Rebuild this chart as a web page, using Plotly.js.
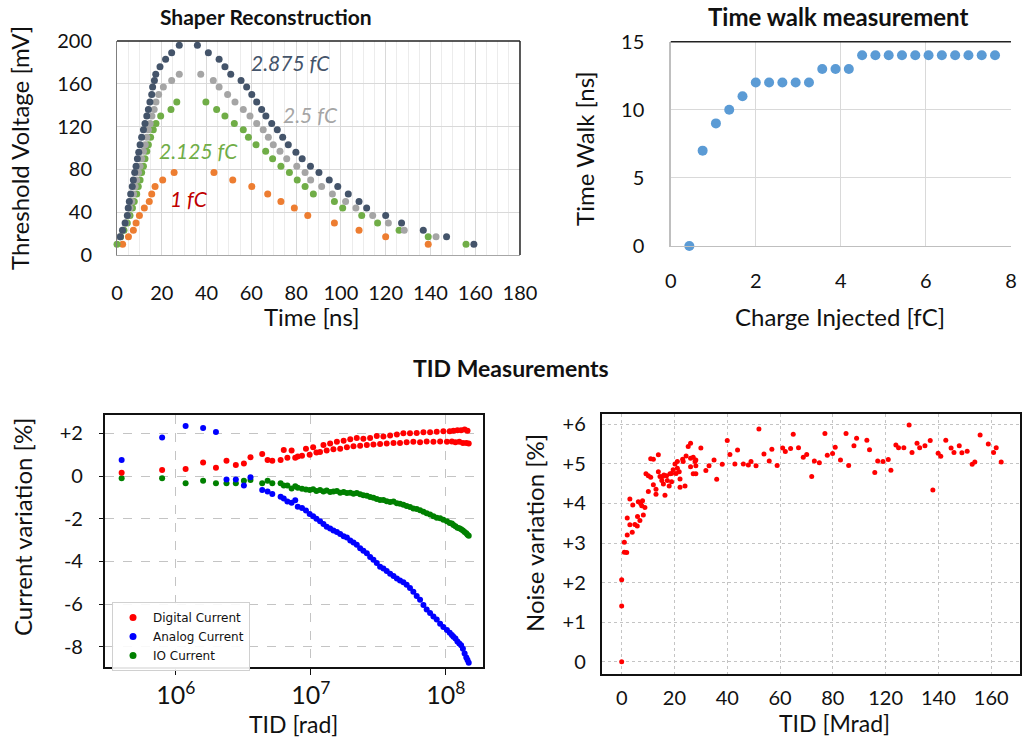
<!DOCTYPE html>
<html><head><meta charset="utf-8">
<script src="https://cdn.plot.ly/plotly-3.0.1.min.js"></script>
<style>body{margin:0;padding:0;background:#fff}#chart{width:1022px;height:738px}</style>
</head><body><div id="chart"></div>
<script>
// ---- Shaper Reconstruction (time [ns], threshold [mV]) ----
const q2875T = [1.5,2.5,3.6,4.6,5.0,5.5,6.1,6.8,7.3,7.9,8.5,9.1,9.7,10.3,11.0,11.8,12.5,13.3,14.0,14.7,15.5,15.9,16.7,17.3,19.2,21.7,24.4,27.8,
  35.9,40.8,45.6,48.2,50.8,55.4,57.9,60.2,62.4,64.6,66.5,69.1,71.6,74.0,76.5,79.9,82.7,86.4,90.2,94.8,98.6,103.3,108.1,111.5,120.0,127.1,136.8,147.2,159.4];
const q2875V = [17,23,30,37,44,50,57,64,70,77,83,90,96,103,110,117,123,130,136,143,150,157,163,169,176,183,189,196,
  196,189,183,176,169,163,157,150,143,136,130,123,117,110,103,96,90,83,77,70,64,57,50,44,37,30,23,17,10];
const q25T = [1.2,2.4,3.8,4.9,5.8,6.6,7.4,8.1,8.8,9.6,10.3,11.0,11.8,12.6,13.3,14.0,14.8,15.6,16.6,17.4,18.6,20.7,24.4,27.8,
  37.4,43.0,45.6,49.4,52.7,56.4,59.4,62.4,65.3,67.6,69.8,72.8,75.8,80.3,84.0,86.5,91.4,96.2,102.1,106.7,114.2,121.2,128.3,142.5];
const q25V = [17,23,30,37,44,50,57,64,70,77,83,90,97,103,110,117,123,130,136,143,150,157,163,169,
  169,163,157,150,143,136,130,123,117,110,103,97,90,83,77,70,64,57,50,44,37,30,23,17];
const q2125T = [0,1.6,3.1,4.6,5.8,6.9,7.7,8.8,9.5,10.3,11.0,11.8,12.5,13.3,14.0,15.0,16.2,17.4,19.5,24.1,26.7,
  39.7,44.5,48.2,52.4,56.4,58.7,62.1,66.4,69.5,73.2,77.0,80.5,84.0,87.7,97.1,100.8,109.3,116.4,126.0,139.0,155.9];
const q2125V = [10,17,23,30,37,44,50,57,64,70,77,83,90,97,103,110,117,123,130,136,143,
  143,136,130,123,117,110,103,97,90,83,77,70,64,57,50,44,37,30,23,17,10];
const q1T = [2.5,5.1,7.3,8.5,10.0,12.2,14.4,15.5,17.0,20.4,25.5,
  43.3,51.7,60.2,67.3,73.2,79.2,85.2,97.1,108.1,120.0,139.0];
const q1V = [10,17,23,30,37,44,50,57,64,70,77,
  77,70,64,57,50,44,37,30,23,17,10];

// ---- Time walk ----
const chargeFC = [0.4375,0.75,1.0625,1.375,1.6875,2.0,2.3125,2.625,2.9375,3.25,3.5625,3.875,4.1875,4.5,4.8125,5.125,5.4375,5.75,6.0625,6.375,6.6875,7.0,7.3125,7.625];
const timeWalk = [0,7,9,10,11,12,12,12,12,12,13,13,13,14,14,14,14,14,14,14,14,14,14,14];

// ---- TID current variation ----
const tidRad = [3.96e5,7.9e5,1.18e6,1.59e6,1.98e6,2.37e6,2.78e6,3.19e6,3.57e6,4.36e6,4.78e6,5.18e6,5.97e6,6.3e6,6.7e6,7.2e6,7.66e6,8.0e6,
  8.6e6,9.2e6,9.8e6,1.04e7,1.1e7,1.17e7,1.24e7,1.31e7,1.39e7,1.47e7,1.56e7,1.65e7,1.75e7,1.85e7,1.96e7,2.07e7,2.19e7,2.32e7,2.45e7,2.6e7,
  2.75e7,2.91e7,3.08e7,3.26e7,3.45e7,3.65e7,3.87e7,4.1e7,4.34e7,4.58e7,4.85e7,5.13e7,5.43e7,5.75e7,6.09e7,6.45e7,6.83e7,7.22e7,7.65e7,8.1e7,
  8.57e7,9.08e7,9.6e7,1.02e8,1.07e8,1.11e8,1.14e8,1.18e8,1.22e8,1.26e8,1.3e8,1.34e8,1.38e8,1.42e8,1.45e8,1.48e8];
const digitalCur = [0.15,0.28,0.33,0.63,0.39,0.72,0.52,0.59,0.88,1.03,0.75,0.72,0.75,1.22,0.86,1.19,0.86,0.91,
  0.95,1.28,1.0,1.35,1.1,1.12,1.45,1.2,1.52,1.25,1.6,1.28,1.65,1.35,1.72,1.4,1.78,1.42,1.75,1.45,
  1.78,1.48,1.88,1.5,1.85,1.52,1.9,1.55,1.95,1.55,2.0,1.58,2.0,1.6,2.02,1.58,2.05,1.62,2.05,1.6,
  2.08,1.62,2.1,1.6,2.1,1.62,2.12,1.58,2.15,1.6,2.15,1.55,2.18,1.55,2.12,1.52];
const analogCur = [0.75,1.81,2.34,2.25,2.06,-0.16,-0.16,-0.45,-0.06,-0.66,-0.73,-0.84,-0.97,-1.05,-1.2,-1.25,-1.13,-1.44,
  -1.5,-1.62,-1.78,-1.88,-2.0,-2.12,-2.25,-2.38,-2.46,-2.55,-2.62,-2.72,-2.82,-2.88,-3.02,-3.12,-3.22,-3.38,-3.5,-3.62,
  -3.8,-3.92,-4.08,-4.25,-4.33,-4.45,-4.58,-4.68,-4.8,-4.9,-4.98,-5.1,-5.25,-5.42,-5.62,-5.8,-6.05,-6.25,-6.42,-6.58,
  -6.72,-6.92,-7.08,-7.22,-7.35,-7.45,-7.53,-7.62,-7.75,-7.85,-7.93,-8.1,-8.32,-8.5,-8.62,-8.75];
const ioCur = [-0.11,-0.11,-0.34,-0.22,-0.34,-0.34,-0.34,-0.22,-0.19,-0.34,-0.22,-0.34,-0.34,-0.45,-0.45,-0.58,-0.48,-0.55,
  -0.6,-0.63,-0.66,-0.62,-0.7,-0.66,-0.72,-0.68,-0.75,-0.72,-0.7,-0.78,-0.75,-0.8,-0.78,-0.83,-0.8,-0.85,-0.9,-0.92,
  -0.98,-1.02,-1.08,-1.12,-1.12,-1.18,-1.22,-1.2,-1.28,-1.3,-1.35,-1.4,-1.45,-1.52,-1.55,-1.6,-1.68,-1.75,-1.8,-1.88,
  -1.95,-1.98,-2.05,-2.12,-2.2,-2.22,-2.3,-2.35,-2.42,-2.45,-2.5,-2.55,-2.62,-2.68,-2.75,-2.8];

// ---- TID noise variation ----
const noiseTid = [0,0,0,1.0,1.9,1.0,2.1,4.0,2.1,3.1,3.1,4.2,5.0,5.9,6.0,6.9,6.3,7.2,7.9,7.6,
  8.2,8.8,9.2,10.1,10.1,11.0,11.0,12.0,12.0,13.0,13.0,13.9,13.9,14.5,15.2,15.5,15.8,16.4,16.0,17.0,
  17.3,18.0,18.3,18.9,18.9,19.5,20.2,20.6,21.1,21.1,21.8,22.1,22.1,23.1,23.3,24.0,24.4,25.2,26.1,26.1,
  26.1,27.1,27.8,28.1,28.1,27.1,28.1,30.0,31.9,33.1,35.0,36.0,38.1,40.0,41.0,42.9,43.9,46.1,48.0,49.0,
  50.9,52.0,53.9,55.9,56.9,58.9,61.0,62.0,64.0,65.0,67.0,68.8,70.1,72.0,73.0,74.9,77.0,77.9,79.9,80.9,
  82.9,85.0,86.0,88.0,89.0,92.9,93.9,95.9,97.0,99.0,101.0,102.0,103.9,104.9,106.9,108.9,110.0,111.9,112.9,114.9,
  116.9,117.9,119.9,120.9,122.8,124.8,125.9,127.9,128.9,130.9,132.8,133.8,135.8,138.9,140.9,141.9,143.8];
const noiseVar = [0.0,1.41,2.07,2.77,2.76,3.02,3.2,3.27,3.63,3.46,4.11,3.96,3.47,3.43,3.67,3.57,4.04,4.0,4.07,3.94,
  3.71,3.9,4.75,4.3,4.7,4.66,5.13,5.12,4.47,4.23,4.36,5.23,4.8,4.68,4.58,4.68,4.49,4.21,4.72,4.7,
  4.58,4.44,4.75,4.55,4.76,4.85,5.0,4.76,5.06,4.89,4.8,4.62,4.41,5.12,5.06,4.44,5.2,5.44,5.52,4.93,
  5.14,5.17,5.06,5.1,4.95,4.75,4.75,5.4,4.83,4.95,5.1,4.61,4.99,5.59,5.24,5.0,5.35,5.0,4.97,5.06,
  4.95,5.88,5.25,5.07,5.37,4.96,5.4,5.31,5.39,5.75,5.41,5.17,5.24,4.68,5.07,5.03,5.77,5.22,5.26,5.42,
  5.1,5.77,4.96,5.46,5.65,5.6,5.36,4.78,5.07,5.06,5.11,4.84,5.48,5.41,5.41,5.98,5.29,5.52,5.41,5.46,
  5.59,4.34,5.27,5.19,5.6,5.4,5.29,5.46,5.28,5.32,4.99,5.05,5.73,5.5,5.29,5.41,5.05];

const noiseTickVals = [0,20,40,60,80,100,120,140];
const noiseTickText = ['0','20','40','60','80','120','140','160'];
const curTickVals = [2,0,-2,-4,-6,-8];
const curTickText = ['+2','0','-2','-4','-6','-8'];
const nTickVals = [0,1,2,3,4,5,6];
const nTickText = ['0','+1','+2','+3','+4','+5','+6'];

const F = 'Lato, "Open Sans", sans-serif';
const tickF = {family: F, size: 20, color: '#111'};

function sc(x, y, color, size, xa, ya, name, leg) {
  return {type:'scatter', mode:'markers', x:x, y:y, xaxis:xa, yaxis:ya, name:name||'',
    showlegend:!!leg, cliponaxis:false, marker:{color:color, size:size, line:{width:0}}, hoverinfo:'x+y'};
}

const data = [
  sc(q1T, q1V, '#ed7d31', 7, 'x', 'y'),
  sc(q2125T, q2125V, '#70ad47', 7, 'x', 'y'),
  sc(q25T, q25V, '#a5a5a5', 7, 'x', 'y'),
  sc(q2875T, q2875V, '#44546a', 7, 'x', 'y'),
  sc(chargeFC, timeWalk, '#5b9bd5', 10, 'x2', 'y2'),
  sc(tidRad, ioCur, '#008000', 6, 'x3', 'y3', 'IO Current', false),
  sc(tidRad, analogCur, '#0000ff', 6, 'x3', 'y3', 'Analog Current', false),
  sc(tidRad, digitalCur, '#ff0000', 6, 'x3', 'y3', 'Digital Current', false),
  sc(noiseTid, noiseVar, '#ff0000', 5, 'x4', 'y4')
];
// legend entries in original order
data.push({type:'scatter', mode:'markers', x:[null], y:[null], xaxis:'x3', yaxis:'y3', name:'Digital Current', marker:{color:'#ff0000', size:7}, showlegend:true});
data.push({type:'scatter', mode:'markers', x:[null], y:[null], xaxis:'x3', yaxis:'y3', name:'Analog Current', marker:{color:'#0000ff', size:7}, showlegend:true});
data.push({type:'scatter', mode:'markers', x:[null], y:[null], xaxis:'x3', yaxis:'y3', name:'IO Current', marker:{color:'#008000', size:7}, showlegend:true});

function ann(text, x, y, size, opts) {
  return Object.assign({text:text, x:x, y:y, xref:'paper', yref:'paper', showarrow:false,
    xanchor:'center', yanchor:'middle', font:{family:F, size:size, color:'#111'}}, opts||{});
}
const annotations = [
  ann('<b>Shaper Reconstruction</b>', 0.2603, 0.9783, 21),
  ann('<b>Time walk measurement</b>', 0.82, 0.9783, 24),
  ann('<b>TID Measurements</b>', 0.5, 0.5014, 23),
  ann('Threshold Voltage [mV]', 0.0196, 0.7995, 24, {textangle:-90}),
  ann('Time [ns]', 0.3053, 0.5718, 24),
  ann('Time Walk [ns]', 0.5724, 0.7995, 24, {textangle:-90}),
  ann('Charge Injected [fC]', 0.8219, 0.5718, 24),
  ann('Current variation [%]', 0.0215, 0.2859, 24, {textangle:-90}),
  ann('TID [rad]', 0.2867, 0.0185, 23),
  ann('Noise variation [%]', 0.5235, 0.2778, 24, {textangle:-90}),
  ann('TID [Mrad]', 0.817, 0.0203, 23),
  {text:'<i>2.875 fC</i>', x:77.3, y:180, xref:'x', yref:'y', showarrow:false, font:{family:F, size:21, color:'#44546a'}},
  {text:'<i>2.5 fC</i>', x:86.6, y:131, xref:'x', yref:'y', showarrow:false, font:{family:F, size:21, color:'#a5a5a5'}},
  {text:'<i>2.125 fC</i>', x:36.2, y:98, xref:'x', yref:'y', showarrow:false, font:{family:F, size:21, color:'#70ad47'}},
  {text:'<i>1 fC</i>', x:32.2, y:53, xref:'x', yref:'y', showarrow:false, font:{family:F, size:21, color:'#c00000'}}
];

const shapes = [
  {type:'line', xref:'x domain', yref:'y domain', x0:0, x1:1, y0:1, y1:1, line:{color:'#222', width:1.5}},
  {type:'line', xref:'x domain', yref:'y domain', x0:1, x1:1, y0:0, y1:1, line:{color:'#222', width:1.5}},
  {type:'line', xref:'x2 domain', yref:'y2 domain', x0:0, x1:1, y0:1, y1:1, line:{color:'#222', width:1.5}}
];

const layout = {
  width:1022, height:738, autosize:false, margin:{l:0, r:0, t:0, b:0},
  paper_bgcolor:'#fff', plot_bgcolor:'#fff', showlegend:true, hovermode:'closest',
  font:{family:F},
  xaxis:{domain:[0.1145,0.5088], range:[0,180], anchor:'y', tickvals:[0,20,40,60,80,100,120,140,160,180],
    showgrid:true, gridcolor:'#d9d9d9', minor:{dtick:5, showgrid:true, gridcolor:'#ececec'},
    showline:true, linecolor:'#a6a6a6', linewidth:1, zeroline:false,
    ticks:'outside', ticklen:20, tickcolor:'rgba(0,0,0,0)', tickfont:tickF},
  yaxis:{domain:[0.6545,0.9444], range:[0,200], anchor:'x', tickvals:[0,40,80,120,160,200],
    showgrid:true, gridcolor:'#d9d9d9', showline:true, linecolor:'#7f7f7f', linewidth:1, zeroline:false,
    ticks:'outside', ticklen:20, tickcolor:'rgba(0,0,0,0)', tickfont:tickF},
  xaxis2:{domain:[0.6563,0.9892], range:[0,8], anchor:'y2', tickvals:[0,2,4,6,8],
    showgrid:true, gridcolor:'#d9d9d9', showline:true, linecolor:'#bfbfbf', linewidth:1.5, zeroline:false,
    ticks:'outside', ticklen:17, tickcolor:'rgba(0,0,0,0)', tickfont:tickF},
  yaxis2:{domain:[0.6667,0.9435], range:[0,15], anchor:'x2', tickvals:[0,5,10,15],
    showgrid:true, gridcolor:'#d9d9d9', showline:true, linecolor:'#bfbfbf', linewidth:1.5, zeroline:false,
    ticks:'outside', ticklen:21, tickcolor:'rgba(0,0,0,0)', tickfont:tickF},
  xaxis3:{domain:[0.1027,0.4726], type:'log', range:[5.474,8.276], anchor:'y3',
    tickmode:'linear', tick0:0, dtick:1, exponentformat:'power',
    showgrid:true, gridcolor:'#c4c4c4', griddash:'dash', gridwidth:1,
    showline:true, mirror:true, linecolor:'#111', linewidth:2, zeroline:false,
    ticks:'outside', ticklen:6, tickcolor:'#111', ticklabelstandoff:0, tickfont:tickF},
  yaxis3:{domain:[0.0962,0.4377], range:[-8.95,2.86], anchor:'x3', tickvals:curTickVals, ticktext:curTickText,
    showgrid:true, gridcolor:'#c4c4c4', griddash:'dash', gridwidth:1,
    showline:true, mirror:true, linecolor:'#111', linewidth:2, zeroline:false,
    ticks:'outside', ticklen:4, tickcolor:'#111', ticklabelstandoff:12, tickfont:tickF},
  xaxis4:{domain:[0.5888,0.998], range:[-7.55,150.9], anchor:'y4', tickvals:noiseTickVals, ticktext:noiseTickText,
    showgrid:true, gridcolor:'#c4c4c4', griddash:'dot', gridwidth:1,
    showline:true, mirror:true, linecolor:'#111', linewidth:2, zeroline:false,
    ticks:'', ticklabelstandoff:5, tickfont:tickF},
  yaxis4:{domain:[0.0867,0.439], range:[-0.31,6.26], anchor:'x4', tickvals:nTickVals, ticktext:nTickText,
    showgrid:true, gridcolor:'#c4c4c4', griddash:'dot', gridwidth:1,
    showline:true, mirror:true, linecolor:'#111', linewidth:2, zeroline:false,
    ticks:'', ticklabelstandoff:10, tickfont:tickF},
  legend:{x:0.1096, y:0.1843, xanchor:'left', yanchor:'top', bgcolor:'rgba(255,255,255,0.9)',
    bordercolor:'#d0d0d0', borderwidth:1, font:{family:'"DejaVu Sans", sans-serif', size:12, color:'#111'},
    tracegroupgap:0, itemwidth:30},
  annotations:annotations, shapes:shapes
};

Plotly.newPlot('chart', data, layout, {displayModeBar:false, staticPlot:true});
</script></body></html>
